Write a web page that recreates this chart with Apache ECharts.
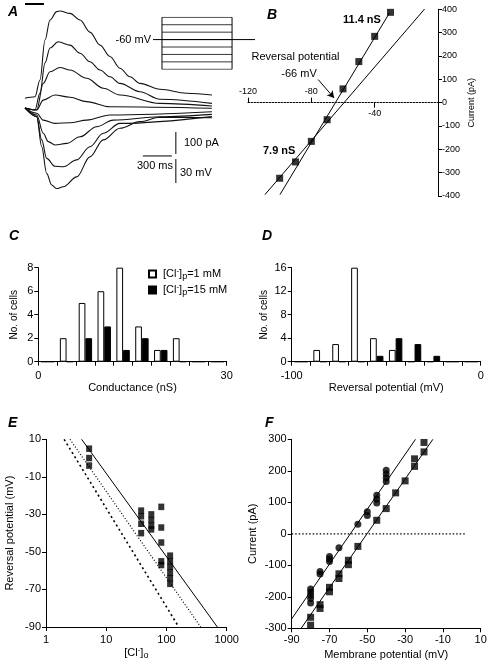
<!DOCTYPE html>
<html><head><meta charset="utf-8">
<script src="https://cdn.jsdelivr.net/npm/echarts@6/dist/echarts.min.js"></script>
<style>html,body{margin:0;padding:0;background:#fff}#c{width:489px;height:670px}</style>
</head><body><div id="c"></div>
<script>
const FONT = "'Liberation Sans', Arial, Helvetica, sans-serif";

// ---------- Panel A: membrane currents (time ms, current pA)
const traceA1 = [[0,44],[103,51],[155,127],[207,309],[259,400],[328,438],[362,441],[465,430],[569,400],[672,345],[776,286],[879,234],[982,181],[1086,142],[1189,112],[1396,85],[1672,67],[1934,59]];
const traceA2 = [[0,0],[103,-9],[155,68],[207,205],[259,273],[344,301],[465,286],[569,249],[672,210],[776,173],[879,142],[982,112],[1189,74],[1396,40],[1934,21]];
const traceA3 = [[0,0],[121,-9],[189,112],[259,165],[362,184],[465,173],[638,135],[810,90],[982,59],[1396,21],[1934,9]];
const traceA4 = [[0,0],[121,-9],[189,36],[310,59],[465,49],[638,29],[879,6],[1934,-1]];
const traceA5 = [[0,0],[121,-24],[189,-55],[310,-70],[465,-67],[638,-55],[879,-32],[1934,-17]];
const traceA6 = [[0,0],[121,-32],[189,-115],[241,-153],[310,-168],[431,-161],[569,-131],[741,-85],[913,-55],[1396,-40],[1934,-29]];
const traceA7 = [[0,0],[121,-39],[173,-145],[224,-229],[310,-265],[396,-267],[535,-236],[672,-176],[810,-115],[982,-70],[1934,-39]];
const traceA8 = [[0,0],[121,-39],[173,-176],[224,-297],[276,-350],[328,-366],[396,-358],[535,-313],[672,-222],[810,-145],[982,-92],[1189,-62],[1396,-42],[1934,-44]];
const stimBar = [[0,473],[196,473]];
const scaleCurrent = [[1561,-109],[1561,-209]];   // 100 pA
const scaleTime = [[1220,-218],[1520,-218]];      // 300 ms
const scaleVolt = [[1561,-232],[1561,-341]];      // 30 mV
// voltage protocol inset (mV)
const protoLevels = [-100,-90,-80,-70,-60,-50,-40,-30];
const protoHold = -60;
const protoOn = 88, protoOff = 775, protoEnd = 1000;

// ---------- Panel B: I-V relation
const bVm = [-100,-90,-80,-70,-60,-50,-40,-30];
const bI  = [-324,-254,-166,-73,59,176,284,387];
const fit114 = [[-99.8,-394],[-30.6,385]];
const fit79  = [[-109.3,-394],[-8.5,401]];
const bTicksUp = [-120,-80];
const bTicksDown = [-40];
const revArrow = [[-75.7,99],[-65.6,20]];

// ---------- Panel C: conductance histogram (bins of 3 nS)
const cBins = ['0-3','3-6','6-9','9-12','12-15','15-18','18-21','21-24','24-27','27-30'];
const cOpen   = [0,2,5,6,8,3,1,2,0,0];
const cFilled = [0,0,2,3,1,2,1,0,0,0];

// ---------- Panel D: reversal potential histogram (bins of 10 mV)
const dBins = ['-100','-90','-80','-70','-60','-50','-40','-30','-20','-10'];
const dOpen   = [0,2,3,16,4,2,0,0,0,0];
const dFilled = [0,0,0,0,1,4,3,1,0,0];

// ---------- Panel E: reversal potential vs [Cl-]o
const eClo = [5.2, 38, 56, 82, 115];
const eRev = [[5,0,-4],[-28,-31,-35,-40],[-30,-33,-36,-38],[-26,-37,-45,-55,-57],[-52,-55,-58,-61,-64,-67]];
const eSolid  = [[3.9,10],[700,-90]];
const eDotted = [[2.5,10],[370,-90]];
const eDashed = [[2.0,10],[160,-90]];

// ---------- Panel F: I-V relations
const fCircVm = [-80,-75,-70,-65,-55,-50,-45,-40];
const fCircI  = [[-175,-185,-195,-205,-220],[-120,-128],[-72,-80,-88],[-44],[30],[70,58],[122,110,98],[202,190,178,166]];
const fSqVm = [-80,-75,-70,-65,-60,-55,-45,-40,-35,-30,-25,-20];
const fSqI  = [[-265,-290],[-225,-237],[-170,-184],[-127,-142],[-84,-98],[-40],[43],[80],[130],[168],[238,214],[290,260]];
const fCircFit = [[-90,-270],[-24.5,300]];
const fSqFit = [[-85,-300],[-15.3,300]];
const fZero = [[-90,0],[2.5,0]];

// ---------- helpers
const pairs = (xs, ys) => xs.flatMap((x,i) => ys[i].map(y => [x,y]));
const axLine = {show:true, onZero:false, lineStyle:{color:'#000', width:1}};
const tick = (o) => Object.assign({show:true, length:4, inside:false, lineStyle:{color:'#000', width:1}}, o||{});
const lab = (o) => Object.assign({color:'#000', fontSize:11, fontFamily:FONT}, o||{});
const nameStyle = (o) => Object.assign({color:'#000', fontSize:11, fontFamily:FONT}, o||{});
const richCl = {
  sup:{fontSize:8, lineHeight:8, verticalAlign:'top', fontFamily:FONT, color:'#000'},
  sub:{fontSize:9, lineHeight:9, verticalAlign:'bottom', fontFamily:FONT, color:'#000'}
};
const blackLine = (data, xi, yi, extra) => Object.assign({
  type:'line', data, xAxisIndex:xi, yAxisIndex:yi, symbol:'none', silent:true,
  lineStyle:{color:'#000', width:1}
}, extra||{});
const trace = (d) => blackLine(d, 0, 0, {smooth:0.35, smoothMonotone:'x', lineStyle:{color:'#111', width:1.1}});

const grids = [
  {left:25, top:2.4, width:187, height:193.6},          // 0 A
  {left:248, top:9.3, width:190, height:186.7},          // 1 B
  {left:38.3, top:267.7, width:188.4, height:94},        // 2 C
  {left:291.7, top:267.7, width:189, height:94},         // 3 D
  {left:46, top:439.3, width:180.7, height:187.7},       // 4 E
  {left:291.7, top:439.3, width:189, height:189},        // 5 F
  {left:153, top:17.3, width:102, height:52},            // 6 A inset
  {left:248, top:9.3, width:190, height:93.35}           // 7 B x-axis at I = 0
].map(g => Object.assign({outerBoundsMode:'none', containLabel:false}, g));

const option = {
  animation:false,
  backgroundColor:'#fff',
  textStyle:{fontFamily:FONT},
  grid: grids,
  legend: {
    show:true, orient:'vertical', left:143, top:262, itemWidth:7, itemHeight:7, itemGap:2,
    icon:'rect', selectedMode:false,
    data:['[Cl-]p=1 mM','[Cl-]p=15 mM'],
    formatter: n => n === '[Cl-]p=1 mM' ? '[Cl{sup|-}]{sub|p}=1 mM' : '[Cl{sup|-}]{sub|p}=15 mM',
    textStyle:{color:'#000', fontSize:11, fontFamily:FONT, lineHeight:14, padding:[0,0,0,2], rich:richCl}
  },
  xAxis: [
    {gridIndex:0, type:'value', min:0, max:1935, show:false},                          // 0
    {gridIndex:7, type:'value', min:-120, max:0, position:'bottom',                    // 1
      axisLine:{show:true, onZero:false, lineStyle:{color:'#000', width:1, type:[1.5,1.5]}},
      axisTick:tick({inside:true, length:5, customValues:bTicksUp}),
      axisLabel:lab({inside:true, fontSize:9, customValues:bTicksUp, margin:7}),
      splitLine:{show:false}},
    {gridIndex:7, type:'value', min:-120, max:0, position:'bottom',                    // 2
      axisLine:{show:false, onZero:false},
      axisTick:tick({length:5, customValues:bTicksDown}),
      axisLabel:lab({fontSize:9, customValues:bTicksDown, margin:6}),
      splitLine:{show:false}},
    {gridIndex:2, type:'category', data:cBins, show:false},                            // 3
    {gridIndex:2, type:'value', min:0, max:30, interval:3, position:'bottom',          // 4
      axisLine:axLine, axisTick:tick(), axisLabel:lab({customValues:[0,30], margin:9}), splitLine:{show:false},
      name:'Conductance (nS)', nameLocation:'middle', nameGap:9, nameTextStyle:nameStyle()},
    {gridIndex:3, type:'category', data:dBins, show:false},                            // 5
    {gridIndex:3, type:'value', min:-100, max:0, interval:10, position:'bottom',       // 6
      axisLine:axLine, axisTick:tick(), axisLabel:lab({customValues:[-100,0], margin:9}), splitLine:{show:false},
      name:'Reversal potential (mV)', nameLocation:'middle', nameGap:9, nameTextStyle:nameStyle()},
    {gridIndex:4, type:'log', logBase:10, min:1, max:1000, position:'bottom',          // 7
      axisLine:axLine, axisTick:tick(), axisLabel:lab({margin:7, formatter: v => String(v)}),
      minorTick:{show:false}, splitLine:{show:false},
      name:'[Cl{sup|-}]{sub|o}', nameLocation:'middle', nameGap:17,
      nameTextStyle:nameStyle({lineHeight:14, rich:richCl})},
    {gridIndex:5, type:'value', min:-90, max:10, interval:20, position:'bottom',       // 8
      axisLine:axLine, axisTick:tick(), axisLabel:lab({margin:6}), splitLine:{show:false},
      name:'Membrane potential (mV)', nameLocation:'middle', nameGap:21, nameTextStyle:nameStyle()},
    {gridIndex:6, type:'value', min:0, max:protoEnd, show:false},                      // 9
    {gridIndex:1, type:'value', min:-120, max:0, show:false}                           // 10 B data
  ],
  yAxis: [
    {gridIndex:0, type:'value', min:-400, max:480, show:false},
    {gridIndex:1, type:'value', min:-400, max:400, interval:100, position:'right',
      axisLine:axLine, axisTick:tick(), axisLabel:lab({fontSize:9, margin:4}), splitLine:{show:false},
      name:'Current (pA)', nameLocation:'middle', nameGap:29, nameRotate:90, nameTextStyle:nameStyle({fontSize:9})},
    {gridIndex:2, type:'value', min:0, max:8, interval:2, position:'left',
      axisLine:axLine, axisTick:tick(), axisLabel:lab({margin:5}), splitLine:{show:false},
      name:'No. of cells', nameLocation:'middle', nameGap:19, nameTextStyle:nameStyle({fontSize:10})},
    {gridIndex:3, type:'value', min:0, max:16, interval:4, position:'left',
      axisLine:axLine, axisTick:tick(), axisLabel:lab({margin:5}), splitLine:{show:false},
      name:'No. of cells', nameLocation:'middle', nameGap:22, nameTextStyle:nameStyle({fontSize:10})},
    {gridIndex:4, type:'value', min:-90, max:10, interval:20, position:'left',
      axisLine:axLine, axisTick:tick(), axisLabel:lab({margin:5}), splitLine:{show:false},
      name:'Reversal potential (mV)', nameLocation:'middle', nameGap:31, nameTextStyle:nameStyle()},
    {gridIndex:5, type:'value', min:-300, max:300, interval:100, position:'left',
      axisLine:axLine, axisTick:tick(), axisLabel:lab({margin:5}), splitLine:{show:false},
      name:'Current (pA)', nameLocation:'middle', nameGap:33, nameTextStyle:nameStyle()},
    {gridIndex:6, type:'value', min:-100, max:-30, show:false},
    {gridIndex:7, type:'value', min:0, max:400, show:false}
  ],
  series: [
    // A traces
    trace(traceA1), trace(traceA2), trace(traceA3), trace(traceA4),
    trace(traceA5), trace(traceA6), trace(traceA7), trace(traceA8),
    blackLine(stimBar, 0, 0, {lineStyle:{color:'#000', width:2}}),
    blackLine(scaleCurrent, 0, 0), blackLine(scaleTime, 0, 0), blackLine(scaleVolt, 0, 0),
    // A inset protocol
    ...protoLevels.map(v => blackLine([[protoOn, v],[protoOff, v]], 9, 6, {lineStyle:{color:'#222', width:0.9}})),
    blackLine([[protoOn,-100],[protoOn,-30]], 9, 6),
    blackLine([[protoOff,-100],[protoOff,-30]], 9, 6),
    blackLine([[0,protoHold],[protoEnd,protoHold]], 9, 6),
    // B
    blackLine(fit114, 10, 1),
    blackLine(fit79, 10, 1, {markLine:{silent:true, symbol:['none','arrow'], symbolSize:[6,7],
      label:{show:false}, lineStyle:{color:'#000', width:1, type:'solid'},
      data:[[{coord:revArrow[0]},{coord:revArrow[1]}]]}}),
    {type:'scatter', xAxisIndex:10, yAxisIndex:1, symbol:'rect', symbolSize:7, silent:true,
      itemStyle:{color:'#000'}, data:bVm.map((v,i)=>[v,bI[i]])},
    // C
    {type:'bar', name:'[Cl-]p=1 mM', xAxisIndex:3, yAxisIndex:2, data:cOpen, barWidth:6.7, barGap:'0%', silent:true,
      itemStyle:{color:'#fff', borderColor:'#000', borderWidth:1}},
    {type:'bar', name:'[Cl-]p=15 mM', xAxisIndex:3, yAxisIndex:2, data:cFilled, barWidth:6.7, barGap:'0%', silent:true,
      itemStyle:{color:'#000', borderColor:'#000', borderWidth:1}},
    // D
    {type:'bar', name:'D open', xAxisIndex:5, yAxisIndex:3, data:dOpen, barWidth:6.7, barGap:'0%', silent:true,
      itemStyle:{color:'#fff', borderColor:'#000', borderWidth:1}},
    {type:'bar', name:'D filled', xAxisIndex:5, yAxisIndex:3, data:dFilled, barWidth:6.7, barGap:'0%', silent:true,
      itemStyle:{color:'#000', borderColor:'#000', borderWidth:1}},
    // E
    blackLine(eSolid, 7, 4),
    blackLine(eDotted, 7, 4, {lineStyle:{color:'#000', width:1.2, type:[1,2]}}),
    blackLine(eDashed, 7, 4, {lineStyle:{color:'#000', width:1.6, type:[2,3]}}),
    {type:'scatter', xAxisIndex:7, yAxisIndex:4, symbol:'rect', symbolSize:[6,6.5], silent:true,
      itemStyle:{color:'#000'}, data:pairs(eClo, eRev)},
    // F
    blackLine(fZero, 8, 5, {lineStyle:{color:'#000', width:1.2, type:[1.5,2]}}),
    blackLine(fCircFit, 8, 5),
    blackLine(fSqFit, 8, 5),
    {type:'scatter', xAxisIndex:8, yAxisIndex:5, symbol:'circle', symbolSize:7, silent:true,
      itemStyle:{color:'#000'}, data:pairs(fCircVm, fCircI)},
    {type:'scatter', xAxisIndex:8, yAxisIndex:5, symbol:'rect', symbolSize:7, silent:true,
      itemStyle:{color:'#000'}, data:pairs(fSqVm, fSqI)}
  ],
  graphic: [
    ...[['A',8,5],['B',267,8],['C',9,229],['D',262,229],['E',8,416],['F',265,416]].map(([t,x,y]) => ({
      type:'text', left:x, top:y, style:{text:t, font:"italic bold 14px "+FONT, fill:'#000'}})),
    {type:'text', x:151, y:40, style:{text:'-60 mV', font:'11px '+FONT, fill:'#000', align:'right', verticalAlign:'middle'}},
    {type:'text', x:184, y:143, style:{text:'100 pA', font:'11px '+FONT, fill:'#000', align:'left', verticalAlign:'middle'}},
    {type:'text', x:155, y:166, style:{text:'300 ms', font:'11px '+FONT, fill:'#000', align:'center', verticalAlign:'middle'}},
    {type:'text', x:180, y:173, style:{text:'30 mV', font:'11px '+FONT, fill:'#000', align:'left', verticalAlign:'middle'}},
    {type:'text', x:295.5, y:57, style:{text:'Reversal potential', font:'11px '+FONT, fill:'#000', align:'center', verticalAlign:'middle'}},
    {type:'text', x:299, y:74, style:{text:'-66 mV', font:'11px '+FONT, fill:'#000', align:'center', verticalAlign:'middle'}},
    {type:'text', x:343, y:20, style:{text:'11.4 nS', font:'bold 11px '+FONT, fill:'#000', align:'left', verticalAlign:'middle'}},
    {type:'text', x:263, y:151, style:{text:'7.9 nS', font:'bold 11px '+FONT, fill:'#000', align:'left', verticalAlign:'middle'}}
  ]
};
const chart = echarts.init(document.getElementById('c'), null, {renderer:'canvas'});
chart.setOption(option);
</script>
</body></html>
